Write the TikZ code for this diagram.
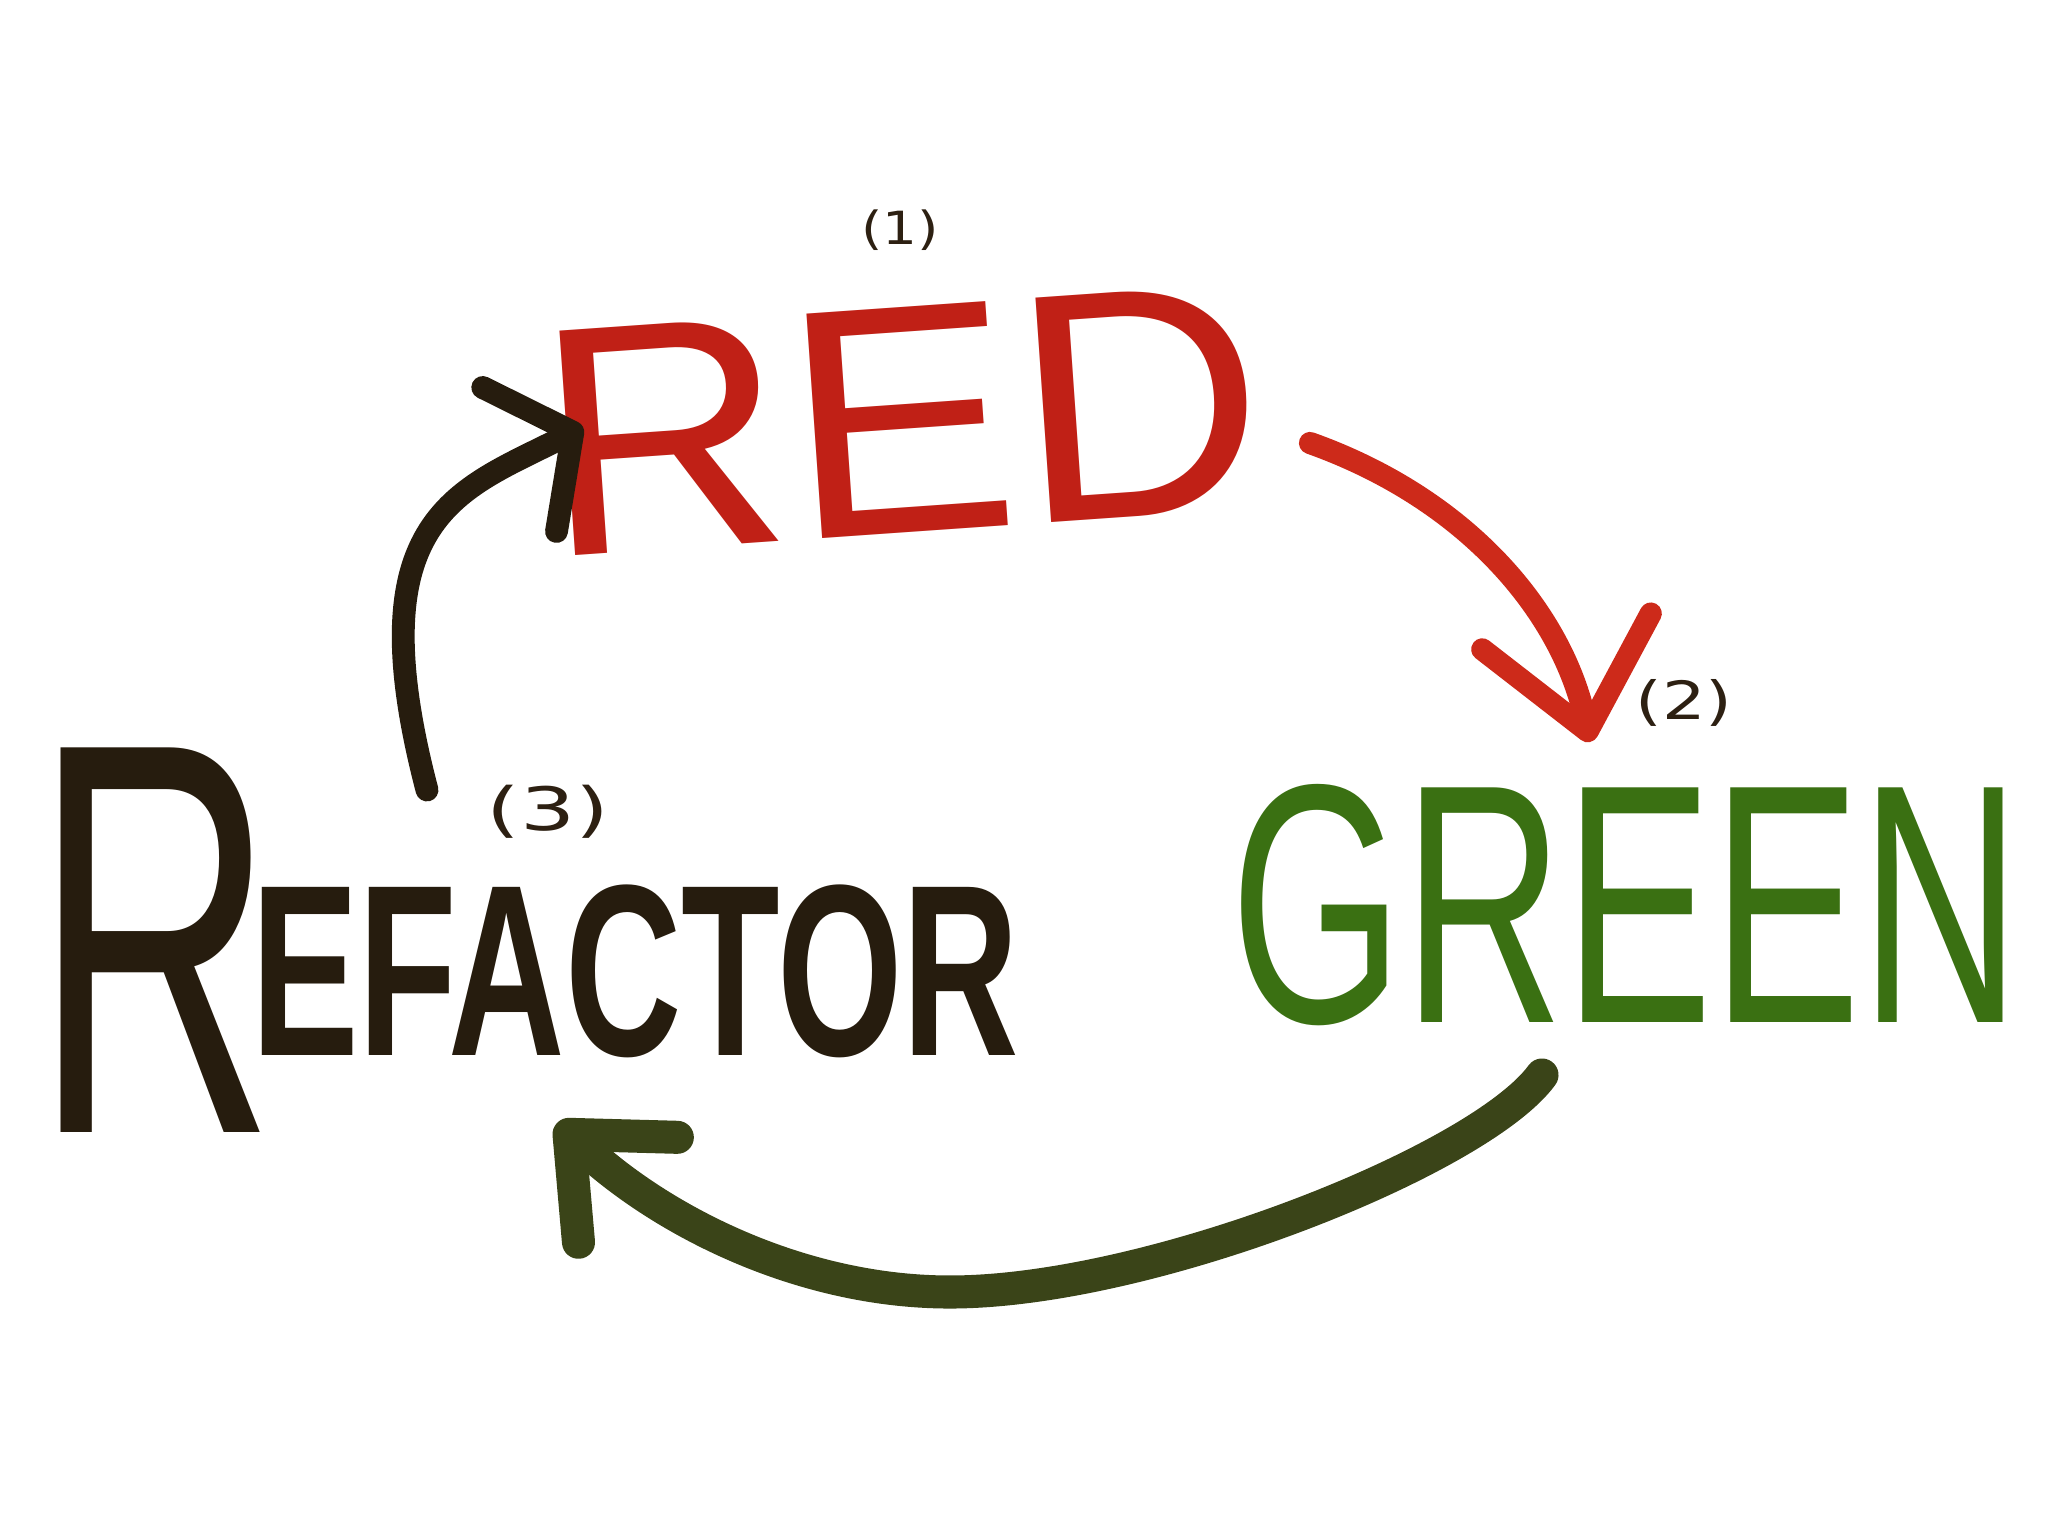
\documentclass[tikz,border=0pt]{standalone}
\usepackage{fontspec}
\setmainfont{Liberation Sans}
\newfontfamily\numfont{DejaVu Sans}
\usepackage{graphicx}
\usetikzlibrary{arrows.meta}
\definecolor{redink}{RGB}{192,32,22}
\definecolor{redarrowink}{RGB}{205,42,26}
\definecolor{greenink}{RGB}{58,112,18}
\definecolor{greenarrowink}{RGB}{58,68,24}
\definecolor{blackink}{RGB}{38,28,14}
\definecolor{labelink}{RGB}{45,32,18}
\tikzset{
    %Define style for the step words
    stepword/.style={
             inner sep=0pt, outer sep=0pt},
    redword/.style={
             stepword,
             text=redink,
             font=\fontsize{93}{93}\selectfont},
    greenword/.style={
             stepword,
             text=greenink,
             font=\fontsize{97}{97}\selectfont},
    refword/.style={
             stepword,
             text=blackink},
    numlabel/.style={
             stepword,
             text=labelink},
    % Define arrow styles
    cyclearrow/.style={
            line cap=round,
            line join=round},
    redarrow/.style={
            cyclearrow,
            draw=redarrowink,
            line width=6.3pt,
            -{Straight Barb[length=29pt,width=49pt,round]}},
    greenarrow/.style={
            cyclearrow,
            draw=greenarrowink,
            line width=9.4pt,
            -{Straight Barb[length=23pt,width=41pt,round]}},
    blackarrow/.style={
            cyclearrow,
            draw=blackink,
            line width=6.5pt,
            -{Straight Barb[length=17pt,width=46pt,round]}}
}
\begin{document}
\begin{tikzpicture}[x=0.01cm, y=-0.01cm]
 \useasboundingbox (0,0) rectangle (2048,1536);
 \fill[white] (0,0) rectangle (2048,1536);
 % the three steps
 \node[redword, rotate=4] (red) at (901,420) {\scalebox{1.05}[1]{RED}};
 \node[greenword] (green) at (1626,905) {\scalebox{0.652}[1]{GREEN}};
 \node[refword, anchor=base west] (refactor) at (33,1055)
   {\scalebox{0.6}[1]{\raisebox{-22pt}{\fontsize{159}{159}\selectfont R}}\kern-6.8pt\scalebox{0.66}[1]{\bfseries\fontsize{69.5}{70}\selectfont EFACTOR}};
 % step numbers
 \node[numlabel, font=\numfont\fontsize{13}{13}\selectfont] (one) at (900,230) {\scalebox{1.2}[1]{(1)}};
 \node[numlabel, font=\numfont\fontsize{15}{15}\selectfont] (two) at (1684,703) {\scalebox{1.3}[1]{(2)}};
 \node[numlabel, font=\numfont\fontsize{17}{17}\selectfont] (three) at (548,812) {\scalebox{1.45}[1]{(3)}};
 % arrow ends
 \coordinate (red-out) at (1310,443);
 \coordinate (green-in) at (1590,742);
 \coordinate (green-out) at (1542,1075);
 \coordinate (refactor-in) at (557,1123);
 \coordinate (refactor-out) at (427,790);
 \coordinate (red-in) at (583,427);
 \draw[redarrow] (red-out) .. controls (1470,500) and (1563,615) .. (green-in);
 \draw[greenarrow] (green-out) .. controls (1480,1160) and (1150,1292) .. (950,1292)
       .. controls (800,1292) and (660,1220) .. (refactor-in);
 \draw[blackarrow] (refactor-out) .. controls (355,515) and (460,490) .. (red-in);
\end{tikzpicture}
\end{document}
